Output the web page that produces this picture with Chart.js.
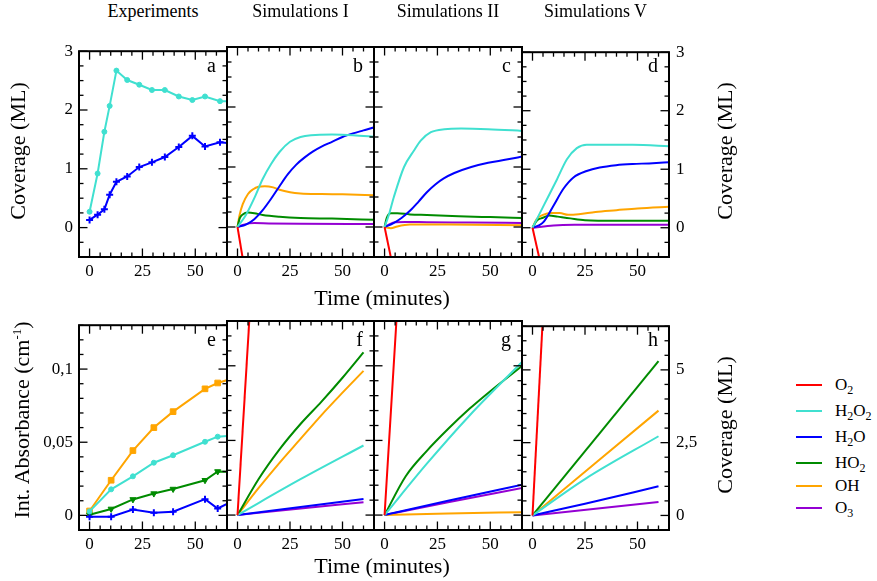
<!DOCTYPE html>
<html>
<head>
<meta charset="utf-8">
<script src="https://cdn.jsdelivr.net/npm/chart.js@4.4.1/dist/chart.umd.min.js"></script>
<style>
  body { margin: 0; background: #fff; }
  #fig { position: relative; width: 877px; height: 581px; overflow: hidden;
         font-family: 'Liberation Serif', 'Times New Roman', serif; color: #000; }
  #fig canvas { position: absolute; }
  .t { position: absolute; white-space: nowrap; transform: translate(-50%, -50%); }
  .rot { transform: translate(-50%, -50%) rotate(-90deg); }
  .ttl { font-size: 18px; }
  .ax { font-size: 22px; line-height: 24px; }
  .lt { position: absolute; font-size: 20px; line-height: 20px; text-align: right; }
  .leg { position: absolute; left: 796px; font-size: 17px; line-height: 17px; }
  .leg i { position: absolute; left: 0; top: -1px; width: 26px; height: 2px; }
  .leg span { position: absolute; left: 39px; top: -9px; white-space: nowrap; }
  sub { font-size: 12px; vertical-align: -4px; line-height: 0; }
  sup { font-size: 13px; vertical-align: 8px; line-height: 0; }
</style>
</head>
<body>
<div id="fig"></div>
<script>
// species and their colours
const species = ['O2', 'H2O2', 'H2O', 'HO2', 'OH', 'O3'];
const colors = ['#ff0000', '#40e0d0', '#0000ff', '#008b00', '#ffa500', '#9400d3'];

// tick labels (major ticks)
const xTickLabels = [0, 25, 50];
const covTickLabels = [0, 1, 2, 3];
const absTickLabels = [0, 0.05, 0.1];
const mlTickLabels = [0, 2.5, 5];

// a: experiments, coverage (ML)
const tExpA = [0, 3.8, 7, 9.5, 12.7, 17.8, 23.5, 29.5, 35.6, 42.2, 48.6, 54.6, 61.7, 67];
const aH2O2 = [0.27, 0.92, 1.63, 2.07, 2.67, 2.51, 2.43, 2.34, 2.34, 2.23, 2.17, 2.23, 2.15, 2.15];
const aH2O = [0.13, 0.22, 0.31, 0.56, 0.78, 0.87, 1.03, 1.11, 1.2, 1.37, 1.56, 1.38, 1.45, 1.43];

// e: experiments, int. absorbance (cm-1)
const tExpE = [0, 10.2, 20.5, 30.4, 39.5, 54.6, 60.6, 67];
const eH2O2 = [0.0027, 0.0178, 0.0267, 0.036, 0.0411, 0.0503, 0.0538, 0.0544];
const eH2O = [-0.0009, -0.0009, 0.004, 0.0018, 0.0025, 0.0111, 0.0047, 0.0092];
const eHO2 = [0.0004, 0.0044, 0.0109, 0.0149, 0.018, 0.024, 0.03, 0.0298];
const eOH = [0.003, 0.024, 0.0443, 0.06, 0.0709, 0.0865, 0.0905, 0.0933];

// b: simulations I, coverage (ML)
const bO2 = [[0, 0], [10, -2.1]];
const bH2O2 = [[0, 0], [4, 0.2], [8, 0.48], [12, 0.8], [16, 1.05], [20, 1.25], [25, 1.42], [30, 1.5], [35, 1.53], [45, 1.54], [55, 1.53], [66, 1.5]];
const bH2O = [[0, 0], [4, 0.04], [8, 0.13], [12, 0.28], [16, 0.47], [20, 0.68], [24, 0.88], [28, 1.04], [32, 1.16], [36, 1.26], [40, 1.34], [45, 1.42], [50, 1.5], [55, 1.56], [60, 1.61], [66, 1.67]];
const bHO2 = [[0, 0], [1, 0.14], [2.5, 0.21], [5, 0.24], [8, 0.23], [12, 0.2], [20, 0.17], [30, 0.15], [45, 0.14], [66, 0.12]];
const bOH = [[0, 0], [1, 0.2], [2.5, 0.38], [5, 0.55], [7.5, 0.63], [10, 0.67], [13, 0.68], [17, 0.66], [20, 0.62], [25, 0.58], [30, 0.56], [40, 0.55], [50, 0.545], [66, 0.53]];
const bO3 = [[0, 0], [3, 0.04], [8, 0.065], [15, 0.06], [30, 0.055], [66, 0.05]];

// c: simulations II
const cO2 = [[0, 0], [10, -1.7]];
const cH2O2 = [[0, 0], [2, 0.2], [4.4, 0.5], [9.2, 1.0], [14, 1.28], [17.1, 1.44], [21.9, 1.58], [28.3, 1.63], [36.2, 1.64], [48.9, 1.63], [66, 1.6]];
const cH2O = [[0, 0], [4, 0.06], [8, 0.15], [12, 0.27], [16, 0.42], [20, 0.58], [24, 0.71], [28, 0.81], [33, 0.9], [41, 1.0], [49, 1.07], [57, 1.12], [66, 1.18]];
const cHO2 = [[0, 0], [1, 0.15], [3, 0.23], [6, 0.23], [12, 0.21], [20, 0.2], [35, 0.18], [50, 0.165], [66, 0.15]];
const cOH = [[0, 0], [3, -0.02], [6, 0.01], [12, 0.04], [30, 0.04], [66, 0.03]];
const cO3 = [[0, 0], [2, 0.04], [5, 0.08], [10, 0.085], [20, 0.08], [40, 0.075], [66, 0.067]];

// d: simulations V
const dO2 = [[0, 0], [10, -1.6]];
const dH2O2 = [[0, 0], [5.5, 0.39], [11.7, 0.83], [16.4, 1.17], [21.1, 1.36], [25.8, 1.42], [32, 1.42], [47.7, 1.42], [66, 1.39]];
const dH2O = [[0, 0], [3, 0.04], [5.5, 0.11], [10.2, 0.39], [14.8, 0.67], [19.5, 0.86], [25.8, 0.97], [32, 1.03], [39.8, 1.07], [47.7, 1.09], [55.5, 1.1], [66, 1.12]];
const dHO2 = [[0, 0], [2, 0.12], [5, 0.17], [8, 0.21], [12, 0.19], [18, 0.16], [25, 0.13], [40, 0.12], [66, 0.12]];
const dOH = [[0, 0], [2, 0.15], [5, 0.22], [9, 0.25], [13, 0.25], [17, 0.22], [22, 0.23], [30, 0.27], [40, 0.3], [50, 0.33], [66, 0.36]];
const dO3 = [[0, 0], [10, 0.04], [20, 0.05], [66, 0.05]];

// f, g, h: simulations, coverage (ML), right axis
const fO2 = [[0, 0], [10, 11.6]];
const fH2O2 = [[0, 0], [30, 1.2], [60, 2.33]];
const fH2O = [[0, 0], [30, 0.27], [60, 0.54]];
const fHO2 = [[0, 0], [10, 1.2], [20, 2.2], [30, 3.05], [40, 3.8], [50, 4.6], [60, 5.45]];
const fOH = [[0, 0], [10, 0.9], [20, 1.75], [30, 2.55], [40, 3.35], [50, 4.1], [60, 4.83]];
const fO3 = [[0, 0], [30, 0.22], [60, 0.43]];

const gO2 = [[0, 0], [10, 11.6]];
const gH2O2 = [[0, 0], [20, 1.72], [40, 3.32], [66, 5.2]];
const gH2O = [[0, 0], [30, 0.48], [66, 1.03]];
const gHO2 = [[0, 0], [10, 1.3], [20, 2.15], [30, 2.88], [40, 3.55], [50, 4.15], [66, 5.05]];
const gOH = [[0, 0], [30, 0.05], [66, 0.1]];
const gO3 = [[0, 0], [30, 0.43], [66, 0.92]];

const hO2 = [[0, 0], [10, 13.8]];
const hH2O2 = [[0, 0], [25, 1.25], [60, 2.72]];
const hH2O = [[0, 0], [25, 0.4], [60, 1.0]];
const hHO2 = [[0, 0], [30, 2.65], [60, 5.3]];
const hOH = [[0, 0], [30, 1.8], [60, 3.6]];
const hO3 = [[0, 0], [60, 0.46]];

// layout
const colX = [79, 227, 374, 522, 669];
const rowY = [[47, 257], [321, 530]];
const L = 50, R = 50, T = 12, B = 30;

Chart.defaults.font.family = "'Liberation Serif', 'Times New Roman', serif";
Chart.defaults.font.size = 17;
Chart.defaults.color = '#000';

const fig = document.getElementById('fig');

const inList = (v, list) => list.some(l => Math.abs(l - v) < 1e-9);
const fmt = v => String(+v.toFixed(4)).replace('.', ',');

const framePlugin = {
  id: 'frame',
  afterDatasetsDraw(chart, args, opts) {
    const { ctx, chartArea: a, scales } = chart;
    const line = (x1, y1, x2, y2) => { ctx.beginPath(); ctx.moveTo(x1, y1); ctx.lineTo(x2, y2); ctx.stroke(); };
    ctx.save();
    ctx.strokeStyle = '#000';
    ctx.lineWidth = 1.3;
    scales.x.ticks.forEach(t => {
      const p = scales.x.getPixelForValue(t.value);
      const len = inList(t.value, opts.xMajor) ? 8.5 : 4.5;
      line(p, a.bottom, p, a.bottom - len);
      line(p, a.top, p, a.top + len);
    });
    scales.y.ticks.forEach(t => {
      const p = scales.y.getPixelForValue(t.value);
      const len = inList(t.value, opts.yMajor) ? 8.5 : 4.5;
      line(a.left, p, a.left + len, p);
      line(a.right, p, a.right - len, p);
    });
    ctx.lineWidth = 2;
    ctx.strokeRect(a.left, a.top, a.right - a.left, a.bottom - a.top);
    ctx.restore();
  }
};

function simSet(i, data) {
  return {
    label: species[i], data, borderColor: colors[i], backgroundColor: colors[i],
    borderWidth: 2, pointRadius: 0, cubicInterpolationMode: 'monotone', clip: 0
  };
}

function expSet(i, xs, ys, style, radius, rotation) {
  return {
    label: species[i], data: xs.map((x, k) => [x, ys[k]]),
    borderColor: colors[i], backgroundColor: colors[i], borderWidth: 2,
    pointStyle: style, pointRadius: radius, pointRotation: rotation || 0,
    pointBorderWidth: style === 'cross' ? 2 : 1, tension: 0, clip: 0
  };
}

function yAxis(range, labels, show, pos) {
  return {
    type: 'linear', position: pos, min: range[0], max: range[1],
    afterFit: s => { s.width = pos === 'left' ? L : R; },
    grid: { display: false, drawTicks: false }, border: { display: false },
    ticks: {
      display: show, stepSize: range[2], autoSkip: false, padding: pos === 'left' ? 6 : 7,
      callback: v => inList(v, labels) ? fmt(v) : ''
    }
  };
}

function makePanel(col, row, datasets, yRange, yLabels, leftShow, rightShow) {
  const x0 = colX[col], x1 = colX[col + 1];
  const [y0, y1] = rowY[row];
  const w = x1 - x0 + L + R, h = y1 - y0 + T + B;
  const cv = document.createElement('canvas');
  cv.width = w; cv.height = h;
  cv.style.left = (x0 - L) + 'px'; cv.style.top = (y0 - T) + 'px';
  cv.style.width = w + 'px'; cv.style.height = h + 'px';
  fig.appendChild(cv);
  new Chart(cv, {
    type: 'line',
    data: { datasets },
    options: {
      responsive: false, animation: false, devicePixelRatio: 1,
      layout: { padding: { top: T, left: 0, right: 0, bottom: 0 } },
      plugins: { legend: { display: false }, tooltip: { enabled: false },
                 frame: { xMajor: xTickLabels, yMajor: yLabels } },
      scales: {
        x: {
          type: 'linear', min: -5, max: 65,
          afterFit: s => { s.height = B; },
          grid: { display: false, drawTicks: false }, border: { display: false },
          ticks: { stepSize: 5, autoSkip: false, maxRotation: 0, padding: 4,
                   callback: v => inList(v, xTickLabels) ? fmt(v) : '' }
        },
        y: yAxis(yRange, yLabels, leftShow, 'left'),
        yr: yAxis(yRange, yLabels, rightShow, 'right')
      }
    },
    plugins: [framePlugin]
  });
}

const covRange = [-0.5, 3, 0.25];
const absRange = [-0.01, 0.13, 0.01];
const mlRange = [-0.5, 6.5, 0.5];

makePanel(0, 0, [
  expSet(1, tExpA, aH2O2, 'circle', 2.5),
  expSet(2, tExpA, aH2O, 'cross', 3.5)
], covRange, covTickLabels, true, false);
makePanel(1, 0, [bO2, bH2O2, bH2O, bHO2, bOH, bO3].map((d, i) => simSet(i, d)), covRange, covTickLabels, false, false);
makePanel(2, 0, [cO2, cH2O2, cH2O, cHO2, cOH, cO3].map((d, i) => simSet(i, d)), covRange, covTickLabels, false, false);
makePanel(3, 0, [dO2, dH2O2, dH2O, dHO2, dOH, dO3].map((d, i) => simSet(i, d)), covRange, covTickLabels, false, true);

makePanel(0, 1, [
  expSet(1, tExpE, eH2O2, 'circle', 2.5),
  expSet(2, tExpE, eH2O, 'cross', 3.5),
  expSet(3, tExpE, eHO2, 'triangle', 3.5, 180),
  expSet(4, tExpE, eOH, 'rect', 4)
], absRange, absTickLabels, true, false);
makePanel(1, 1, [fO2, fH2O2, fH2O, fHO2, fOH, fO3].map((d, i) => simSet(i, d)), mlRange, mlTickLabels, false, false);
makePanel(2, 1, [gO2, gH2O2, gH2O, gHO2, gOH, gO3].map((d, i) => simSet(i, d)), mlRange, mlTickLabels, false, false);
makePanel(3, 1, [hO2, hH2O2, hH2O, hHO2, hOH, hO3].map((d, i) => simSet(i, d)), mlRange, mlTickLabels, false, true);

// texts
function addText(html, cls, x, y) {
  const d = document.createElement('div');
  d.className = 't ' + cls;
  d.innerHTML = html;
  d.style.left = x + 'px'; d.style.top = y + 'px';
  fig.appendChild(d);
}
['Experiments', 'Simulations I', 'Simulations II', 'Simulations V'].forEach((s, i) => {
  addText(s, 'ttl', (colX[i] + colX[i + 1]) / 2, 11);
});
addText('Time (minutes)', 'ax', 382, 298);
addText('Time (minutes)', 'ax', 382, 566);
addText('Coverage (ML)', 'ax rot', 18, 151);
addText('Coverage (ML)', 'ax rot', 725, 151);
addText('Int. Absorbance (cm<sup>-1</sup>)', 'ax rot', 22, 420);
addText('Coverage (ML)', 'ax rot', 725, 425);

'abcdefgh'.split('').forEach((ch, k) => {
  const col = k % 4, row = Math.floor(k / 4);
  const d = document.createElement('div');
  d.className = 'lt';
  d.textContent = ch;
  d.style.right = (877 - colX[col + 1] + 11) + 'px';
  d.style.top = (rowY[row][0] + (row === 0 ? 8 : 7.5)) + 'px';
  fig.appendChild(d);
});

// legend
const legendY = [385, 411, 437, 463, 486, 508];
species.forEach((s, i) => {
  const d = document.createElement('div');
  d.className = 'leg';
  d.style.top = legendY[i] + 'px';
  d.innerHTML = '<i style="background:' + colors[i] + '"></i><span>' + s.replace(/(\d)/g, '<sub>$1</sub>') + '</span>';
  fig.appendChild(d);
});
</script>
</body>
</html>
